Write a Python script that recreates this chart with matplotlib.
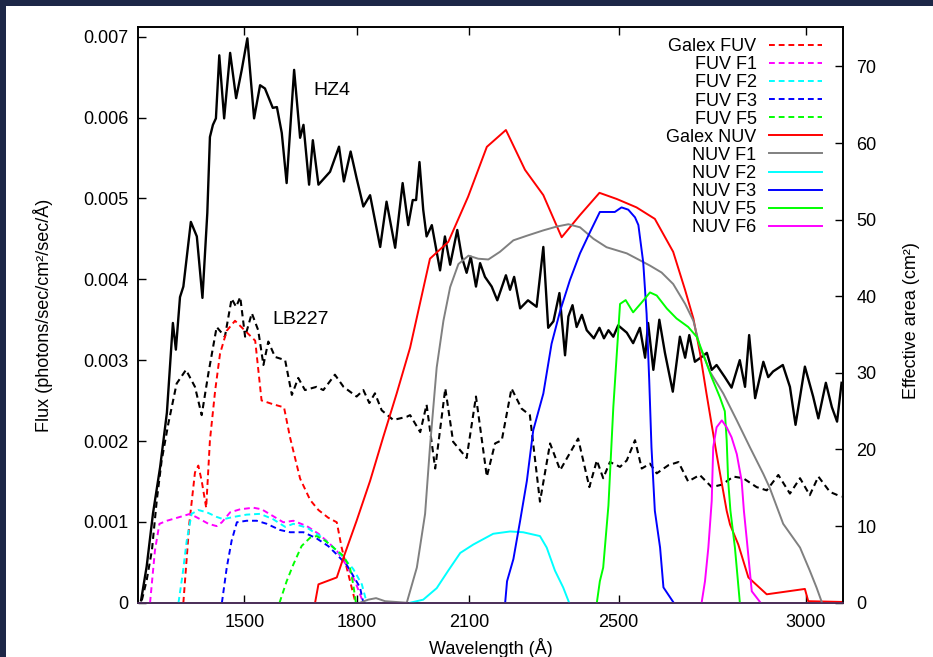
import matplotlib
matplotlib.use("Agg")
import matplotlib.pyplot as plt
from matplotlib.patches import Rectangle

plt.rcParams['font.family'] = ['Liberation Sans', 'DejaVu Sans']
plt.rcParams['font.size'] = 13

# stellar spectra (flux, left axis)
hz4_wl = [1224, 1239, 1256, 1275, 1293, 1309, 1317, 1328, 1337, 1357, 1373, 1388, 1401, 1408,
          1416, 1424, 1433, 1446, 1462, 1478, 1493, 1508, 1526, 1542, 1555, 1576, 1587, 1600,
          1613, 1633, 1649, 1658, 1673, 1683, 1698, 1729, 1753, 1766, 1784, 1800, 1818, 1836,
          1863, 1880, 1903, 1923, 1938, 1950, 1959, 1968, 1978, 1987, 2001, 2023, 2036, 2050,
          2069, 2081, 2094, 2105, 2119, 2130, 2143, 2161, 2176, 2199, 2210, 2221, 2237, 2258,
          2281, 2299, 2312, 2326, 2342, 2357, 2366, 2377, 2388, 2402, 2415, 2434, 2449, 2461,
          2473, 2486, 2499, 2522, 2539, 2557, 2571, 2579, 2593, 2609, 2624, 2645, 2664, 2678,
          2689, 2704, 2722, 2736, 2749, 2762, 2784, 2802, 2824, 2838, 2849, 2865, 2887, 2900,
          2913, 2939, 2958, 2973, 2998, 3020, 3034, 3054, 3070, 3084, 3096]
hz4_flux = [0.00003, 0.00045, 0.00111, 0.00168, 0.00235, 0.00346, 0.00313, 0.00378, 0.00391,
            0.00471, 0.00453, 0.00377, 0.00482, 0.00576, 0.00591, 0.00599, 0.00677, 0.00599,
            0.00680, 0.00624, 0.00659, 0.00698, 0.00599, 0.00640, 0.00636, 0.00612, 0.00613,
            0.00581, 0.00519, 0.00659, 0.00575, 0.00591, 0.00517, 0.00572, 0.00517, 0.00533,
            0.00564, 0.00521, 0.00558, 0.00525, 0.00490, 0.00504, 0.00440, 0.00496, 0.00439,
            0.00519, 0.00467, 0.00498, 0.00498, 0.00545, 0.00486, 0.00453, 0.00467, 0.00411,
            0.00453, 0.00418, 0.00461, 0.00428, 0.00408, 0.00428, 0.00391, 0.00420, 0.00403,
            0.00391, 0.00374, 0.00405, 0.00387, 0.00403, 0.00364, 0.00374, 0.00366, 0.00440,
            0.00340, 0.00348, 0.00383, 0.00306, 0.00354, 0.00368, 0.00341, 0.00356, 0.00337,
            0.00327, 0.00340, 0.00327, 0.00337, 0.00329, 0.00343, 0.00334, 0.00321, 0.00340,
            0.00303, 0.00346, 0.00288, 0.00350, 0.00309, 0.00261, 0.00329, 0.00303, 0.00331,
            0.00298, 0.00304, 0.00309, 0.00288, 0.00294, 0.00279, 0.00266, 0.00300, 0.00267,
            0.00331, 0.00253, 0.00298, 0.00279, 0.00286, 0.00294, 0.00267, 0.00220, 0.00292,
            0.00255, 0.00228, 0.00272, 0.00242, 0.00224, 0.00272]

lb227_wl = [1226, 1239, 1253, 1266, 1279, 1297, 1319, 1344, 1368, 1386, 1404, 1426, 1448, 1466,
            1478, 1489, 1502, 1520, 1537, 1551, 1564, 1582, 1609, 1627, 1644, 1662, 1693, 1711,
            1742, 1765, 1800, 1818, 1834, 1849, 1867, 1898, 1934, 1943, 1970, 1987, 2010, 2037,
            2058, 2094, 2119, 2148, 2170, 2188, 2214, 2241, 2263, 2290, 2317, 2344, 2392, 2422,
            2442, 2459, 2477, 2504, 2522, 2544, 2562, 2584, 2602, 2633, 2660, 2686, 2717, 2749,
            2776, 2807, 2833, 2869, 2896, 2927, 2958, 2985, 3011, 3034, 3065, 3096]
lb227_flux = [0.00003, 0.00028, 0.00065, 0.00127, 0.00176, 0.00222, 0.00271, 0.00288, 0.00267,
              0.00232, 0.00284, 0.00341, 0.00329, 0.00376, 0.00366, 0.00378, 0.00329, 0.00358,
              0.00337, 0.00294, 0.00323, 0.00304, 0.00300, 0.00257, 0.00278, 0.00263, 0.00267,
              0.00263, 0.00282, 0.00267, 0.00255, 0.00263, 0.00247, 0.00259, 0.00238, 0.00226,
              0.00230, 0.00232, 0.00211, 0.00245, 0.00166, 0.00265, 0.00199, 0.00179, 0.00255,
              0.00156, 0.00197, 0.00201, 0.00265, 0.00240, 0.00232, 0.00125, 0.00197, 0.00164,
              0.00203, 0.00143, 0.00176, 0.00154, 0.00174, 0.00168, 0.00176, 0.00201, 0.00166,
              0.00172, 0.00160, 0.00170, 0.00174, 0.00150, 0.00158, 0.00143, 0.00146, 0.00156,
              0.00154, 0.00143, 0.00139, 0.00158, 0.00135, 0.00154, 0.00133, 0.00156, 0.00137,
              0.00131]

# filter effective areas (right axis)
galex_fuv_wl = [1337, 1353, 1368, 1377, 1386, 1398, 1408, 1422, 1435, 1453, 1475, 1502, 1529,
                1546, 1577, 1606, 1622, 1649, 1676, 1698, 1724, 1747, 1760, 1778, 1796]
galex_fuv_area = [0, 10.4, 17.0, 17.9, 15.9, 12.4, 21.2, 27.7, 32.5, 35.5, 36.8, 35.5, 34.2,
                  26.4, 25.9, 25.5, 21.6, 16.2, 13.4, 12.1, 11.1, 10.5, 7.2, 3.7, 0.2]

fuv_f1_wl = [1248, 1261, 1273, 1293, 1328, 1355, 1382, 1404, 1426, 1440, 1462, 1489, 1524, 1546,
             1577, 1604, 1631, 1667, 1698, 1724, 1747, 1774, 1796, 1809, 1818]
fuv_f1_area = [0, 6.8, 10.3, 10.7, 11.2, 11.6, 10.9, 10.3, 10.0, 10.5, 11.8, 12.2, 12.4, 12.2,
               11.3, 10.5, 10.7, 10.0, 9.0, 7.9, 6.8, 4.8, 2.8, 1.1, 0]

fuv_f2_wl = [1324, 1335, 1346, 1359, 1377, 1400, 1426, 1444, 1471, 1506, 1542, 1577, 1609, 1631,
             1667, 1702, 1738, 1765, 1791, 1814, 1827]
fuv_f2_area = [0, 3.7, 8.1, 11.6, 12.1, 11.8, 11.2, 10.9, 11.2, 11.5, 11.6, 10.9, 9.9, 10.3,
               9.8, 8.7, 7.2, 5.9, 4.4, 2.4, 0]

fuv_f3_wl = [1440, 1453, 1466, 1480, 1506, 1533, 1560, 1595, 1622, 1658, 1693, 1724, 1747, 1774,
             1796, 1809, 1818]
fuv_f3_area = [0, 4.6, 8.1, 10.5, 10.7, 10.7, 10.3, 9.5, 9.2, 9.2, 8.4, 7.4, 6.3, 4.9, 3.1, 2.0, 0]

fuv_f5_wl = [1594, 1613, 1631, 1653, 1676, 1693, 1716, 1738, 1765, 1782, 1791, 1798]
fuv_f5_area = [0, 2.8, 5.0, 7.4, 8.5, 8.7, 8.1, 7.2, 6.1, 4.6, 2.4, 0]

galex_nuv_wl = [1689, 1698, 1747, 1765, 1800, 1836, 1871, 1907, 1943, 1996, 2045, 2098, 2148,
                2199, 2250, 2299, 2348, 2397, 2449, 2495, 2548, 2597, 2646, 2678, 2700, 2718,
                2735, 2762, 2789, 2798, 2820, 2847, 2896, 2998, 3007, 3100]
galex_nuv_area = [0, 2.4, 3.3, 5.9, 10.7, 15.9, 21.6, 27.3, 33.3, 44.9, 47.1, 53.0, 59.5, 61.7,
                  56.5, 53.2, 47.7, 50.6, 53.5, 52.7, 51.6, 50.1, 45.8, 40.8, 37.1, 32.5, 27.3,
                  19.4, 12.0, 10.2, 7.6, 3.3, 1.1, 1.8, 0.2, 0.1]

nuv_f1_wl = [1809, 1831, 1852, 1876, 1934, 1961, 1983, 1996, 2014, 2032, 2050, 2072, 2099, 2125,
             2152, 2183, 2219, 2255, 2299, 2335, 2366, 2397, 2433, 2468, 2522, 2557, 2584, 2615,
             2646, 2678, 2700, 2718, 2745, 2780, 2816, 2851, 2887, 2904, 2940, 2985, 3011, 3029,
             3043]
nuv_f1_area = [0, 0.4, 0.6, 0.2, 0, 4.6, 11.6, 20.3, 30.7, 36.8, 41.2, 44.2, 45.3, 44.9, 44.8,
               45.8, 47.3, 47.9, 48.6, 49.1, 49.4, 49.0, 47.5, 46.4, 45.6, 44.7, 44.0, 43.1, 41.6,
               39.0, 36.8, 33.3, 30.1, 27.3, 23.8, 20.3, 16.8, 15.0, 10.3, 7.2, 4.2, 2.0, 0.1]

nuv_f2_wl = [1943, 1978, 2014, 2045, 2077, 2112, 2165, 2210, 2245, 2290, 2308, 2330, 2352, 2368]
nuv_f2_area = [0, 0.4, 1.9, 4.2, 6.5, 7.6, 9.0, 9.3, 9.2, 8.7, 7.2, 4.2, 2.0, 0]

nuv_f3_wl = [2197, 2202, 2219, 2237, 2255, 2272, 2299, 2321, 2344, 2370, 2397, 2424, 2450, 2490,
             2508, 2526, 2544, 2553, 2566, 2575, 2582, 2588, 2597, 2611, 2620, 2646]
nuv_f3_area = [0, 2.8, 5.7, 10.7, 15.9, 22.5, 27.3, 33.8, 38.1, 42.1, 45.6, 48.4, 51.0, 51.0,
               51.6, 51.3, 50.3, 49.3, 44.4, 37.7, 29.0, 20.3, 12.0, 7.2, 2.0, 0.1]

nuv_f5_wl = [2442, 2450, 2459, 2473, 2486, 2504, 2519, 2539, 2562, 2584, 2602, 2629, 2655, 2686,
             2709, 2726, 2749, 2771, 2784, 2789, 2793, 2799, 2811, 2824]
nuv_f5_area = [0, 2.8, 4.6, 12.7, 25.5, 39.0, 39.5, 37.9, 39.2, 40.5, 40.1, 38.4, 37.1, 36.0,
               34.7, 32.5, 29.4, 26.8, 25.0, 21.2, 15.9, 12.0, 7.2, 0.1]

nuv_f6_wl = [2722, 2731, 2740, 2749, 2753, 2762, 2776, 2789, 2802, 2816, 2829, 2835, 2843, 2856,
             2878]
nuv_f6_area = [0, 2.8, 7.2, 13.3, 20.3, 22.9, 23.8, 22.9, 21.6, 19.4, 15.9, 12.0, 8.1, 1.5, 0.1]

filters = [
    ("Galex FUV", galex_fuv_wl, galex_fuv_area, "#ff0000", "--"),
    ("FUV F1", fuv_f1_wl, fuv_f1_area, "#ff00ff", "--"),
    ("FUV F2", fuv_f2_wl, fuv_f2_area, "#00ffff", "--"),
    ("FUV F3", fuv_f3_wl, fuv_f3_area, "#0000ff", "--"),
    ("FUV F5", fuv_f5_wl, fuv_f5_area, "#00ff00", "--"),
    ("Galex NUV", galex_nuv_wl, galex_nuv_area, "#ff0000", "-"),
    ("NUV F1", nuv_f1_wl, nuv_f1_area, "#808080", "-"),
    ("NUV F2", nuv_f2_wl, nuv_f2_area, "#00ffff", "-"),
    ("NUV F3", nuv_f3_wl, nuv_f3_area, "#0000ff", "-"),
    ("NUV F5", nuv_f5_wl, nuv_f5_area, "#00ff00", "-"),
    ("NUV F6", nuv_f6_wl, nuv_f6_area, "#ff00ff", "-"),
]

x_ticks = [1500, 1800, 2100, 2500, 3000]
flux_ticks = [0, 0.001, 0.002, 0.003, 0.004, 0.005, 0.006, 0.007]
area_ticks = [0, 10, 20, 30, 40, 50, 60, 70]

fig = plt.figure(figsize=(9.33, 6.57), dpi=100)
fig.patch.set_facecolor("#1d2747")
# white page with a thin dark border on the top and left
fig.patches.append(Rectangle((6 / 933, 0), 1, 1 - 6 / 657, transform=fig.transFigure,
                             facecolor="white", edgecolor="none", zorder=-1))

ax = fig.add_axes([0.1484, 0.0826, 0.7548, 0.8758])
ax2 = ax.twinx()

ax.plot(hz4_wl, hz4_flux, color="black", lw=1.7)
ax.plot(lb227_wl, lb227_flux, color="black", lw=1.5, dashes=(3, 2))
ax.text(1684, 0.00634, "HZ4", fontsize=14, va="center")
ax.text(1574, 0.0035, "LB227", fontsize=14, va="center")

for name, wl, area, col, ls in filters:
    if ls == "--":
        ax2.plot(wl, area, color=col, lw=1.4, dashes=(3, 2), label=name)
    else:
        ax2.plot(wl, area, color=col, lw=1.4, label=name)

ax.set_xlim(1217, 3099)
ax.set_ylim(0, 0.007116)
ax2.set_ylim(0, 75.1)

ax.set_xticks(x_ticks)
ax.set_yticks(flux_ticks)
ax.set_yticklabels(["0", "0.001", "0.002", "0.003", "0.004", "0.005", "0.006", "0.007"])
ax2.set_yticks(area_ticks)

ax.tick_params(axis="x", direction="in", top=True, length=6, width=1, pad=8)
ax.tick_params(axis="y", direction="in", right=False, length=6, width=1, pad=7)
ax2.tick_params(axis="y", direction="in", length=6, width=1, pad=10)

for a in (ax, ax2):
    for s in a.spines.values():
        s.set_linewidth(1.2)
ax2.spines["bottom"].set_color("#553366")

ax.set_xlabel("Wavelength (Å)")
ax.set_ylabel("Flux (photons/sec/cm²/sec/Å)")
ax2.set_ylabel("Effective area (cm²)")
ax.xaxis.set_label_coords(0.5, -0.062)
ax.yaxis.set_label_coords(-0.122, 0.5)
ax2.yaxis.set_label_coords(1.085, 0.49)

leg = ax2.legend(loc="upper right", bbox_to_anchor=(0.970, 0.981), frameon=False,
                 markerfirst=False, handlelength=2.9, handletextpad=0.7,
                 labelspacing=0.06, borderpad=0, borderaxespad=0, fontsize=13)

# right-align the legend labels next to their line samples
fig.canvas.draw()
renderer = fig.canvas.get_renderer()
texts = leg.get_texts()
goal = max(t.get_window_extent(renderer).x1 for t in texts)
for t in texts:
    t.set_ha("right")
    t.set_position((0, 0))
fig.canvas.draw()
e0 = texts[0].get_window_extent(renderer).x1
for t in texts:
    t.set_position((10, 0))
fig.canvas.draw()
e1 = texts[0].get_window_extent(renderer).x1
unit = (e1 - e0) / 10
for t in texts:
    t.set_position(((goal - e0) / unit, 0))

fig.savefig("out.png", dpi=100, facecolor=fig.get_facecolor())
